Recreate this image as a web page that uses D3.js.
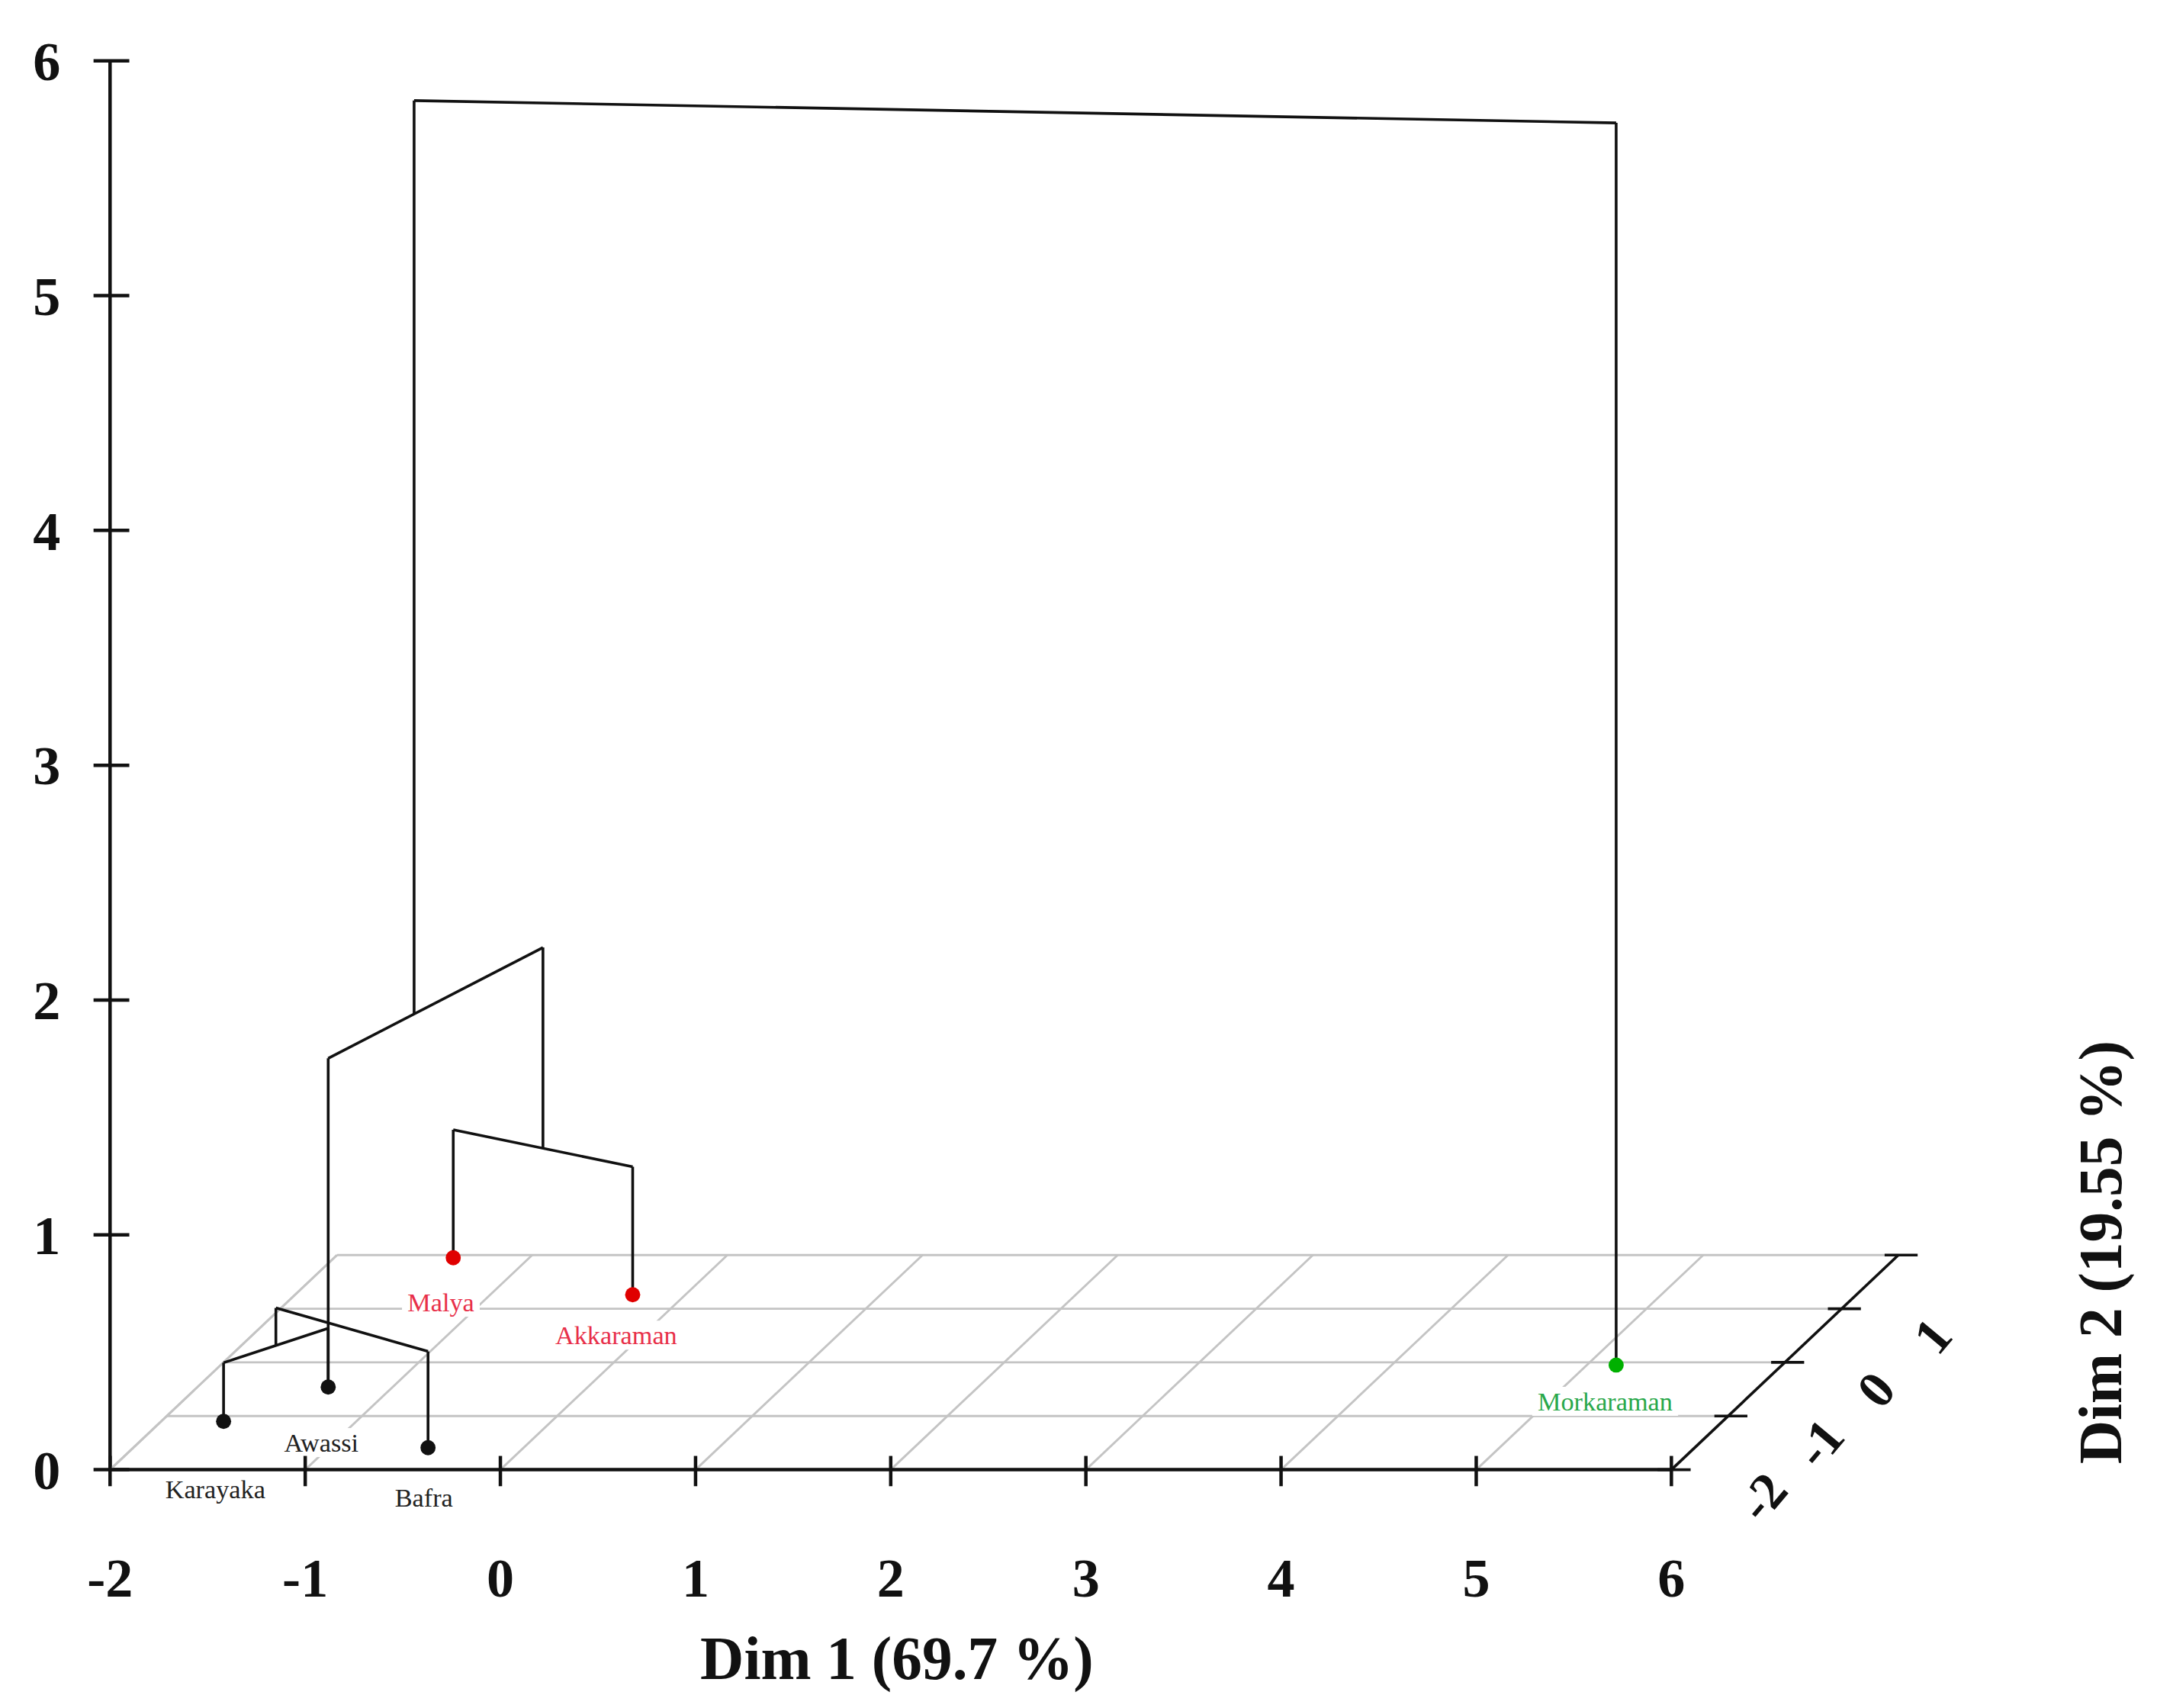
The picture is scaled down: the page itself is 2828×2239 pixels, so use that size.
<!DOCTYPE html>
<html>
<head>
<meta charset="utf-8">
<script src="https://cdn.jsdelivr.net/npm/d3@7"></script>
<style>
  body { margin: 0; background: #fff; }
  text { font-family: "Liberation Serif", "DejaVu Serif", serif; }
</style>
</head>
<body>
<svg id="chart" width="2828" height="2239" viewBox="0 0 1568 1241"></svg>
<script>
// leaves (breeds) on the Dim1 / Dim2 floor
const leafNames = ['Karayaka', 'Awassi', 'Bafra', 'Malya', 'Akkaraman', 'Morkaraman'];
const leafDim1 = [-1.68, -1.33, -0.49, -1.39, -0.27, 5.15];
const leafDim2 = [-1.1, -0.46, -1.59, 1.95, 1.26, -0.05];
const leafColor = ['#111', '#111', '#111', '#e00000', '#e00000', '#00b000'];

// merges of the dendrogram
const mergeNames = ['KA', 'KAB', 'MA', 'MAKAB', 'ROOT'];
const mergeLeft = ['Karayaka', 'KA', 'Malya', 'KAB', 'MAKAB'];
const mergeRight = ['Awassi', 'Bafra', 'Akkaraman', 'MA', 'Morkaraman'];
const mergeHeight = [0.25, 0.41, 0.545, 1.4, 5.29];
const mergeDim1 = [-1.505, -1.33, -0.83, -1.13, 2.0];
const mergeDim2 = [-0.78, -0.46, 1.605, 0.366, 0.2];
const mergeStemBase = [0.25, 0, 0.545, 1.4, 5.29];

const xTicks = [-2, -1, 0, 1, 2, 3, 4, 5, 6];
const yTicks = [0, 1, 2, 3, 4, 5, 6];
const dTicks = [-2, -1, 0, 1, 2];
const dLabels = ['-2', '-1', '0', '1'];

const svg = d3.select('#chart');

const x = d3.scaleLinear().domain([-2, 6]).range([80, 1215]);
const z = d3.scaleLinear().domain([0, 6]).range([1068, 44]);
const dx = d3.scaleLinear().domain([-2, 2]).range([0, 165]);
const dy = d3.scaleLinear().domain([-2, 2]).range([0, -156]);

function proj(a, d, h) {
  return [x(a) + dx(d), z(h) + dy(d)];
}

const pos = {};
leafNames.forEach((n, i) => { pos[n] = { a: leafDim1[i], d: leafDim2[i], h: 0, base: 0 }; });
mergeNames.forEach((n, i) => { pos[n] = { a: mergeDim1[i], d: mergeDim2[i], h: mergeHeight[i], base: mergeStemBase[i] }; });

const line = d3.line();

// floor grid
const grid = svg.append('g').attr('stroke', '#c4c4c4').attr('stroke-width', 1.6).attr('fill', 'none');
dTicks.slice(1).forEach(d => grid.append('path').attr('d', line([proj(-2, d, 0), proj(6, d, 0)])));
xTicks.slice(0, -1).forEach(a => grid.append('path').attr('d', line([proj(a, -2, 0), proj(a, 2, 0)])));

// labels with white halos (erase grid behind labels)
const labelOffset = {
  Karayaka: [-6, 56], Awassi: [-5, 47], Bafra: [-3, 43],
  Malya: [-9, 39], Akkaraman: [-12, 36], Morkaraman: [-8, 33]
};
const labels = svg.append('g');
leafNames.forEach((n, i) => {
  const p = proj(leafDim1[i], leafDim2[i], 0);
  const o = labelOffset[n];
  const t = labels.append('text')
    .attr('x', p[0] + o[0]).attr('y', p[1] + o[1])
    .attr('text-anchor', 'middle').attr('font-size', 19)
    .attr('fill', leafColor[i] === '#111' ? '#222' : (leafColor[i] === '#00b000' ? '#2aa84a' : '#e8304a'))
    .text(n);
  const b = t.node().getBBox();
  labels.insert('rect', 'text').attr('x', b.x - 4).attr('y', b.y).attr('width', b.width + 8)
    .attr('height', b.height).attr('fill', '#fff');
});

// axes
const ax = svg.append('g').attr('stroke', '#111').attr('stroke-width', 2.5).attr('fill', 'none');
ax.append('path').attr('d', line([[x(-2), z(0)], [x(-2), z(6)]]));
ax.append('path').attr('d', line([[x(-2), z(0)], [x(6), z(0)]]));
ax.append('path').attr('d', line([proj(6, -2, 0), proj(6, 2, 0)])).attr('stroke-width', 2);
ax.append('path').attr('d', line([proj(-2, -2, 0), proj(-2, 2, 0)])).attr('stroke', '#c4c4c4').attr('stroke-width', 1.6);
yTicks.forEach(v => ax.append('path').attr('d', line([[x(-2) - 12, z(v)], [x(-2) + 14, z(v)]])));
xTicks.forEach(v => ax.append('path').attr('d', line([[x(v), z(0) - 10], [x(v), z(0) + 12]])));
dTicks.forEach(d => { const p = proj(6, d, 0); ax.append('path').attr('stroke-width', 2).attr('d', line([[p[0] - 10, p[1]], [p[0] + 14, p[1]]])); });

const tl = svg.append('g').attr('font-weight', 'bold').attr('fill', '#111');
yTicks.forEach(v => tl.append('text').attr('x', 34).attr('y', z(v) + 14).attr('text-anchor', 'middle').attr('font-size', 40).text(v));
xTicks.forEach(v => tl.append('text').attr('x', x(v)).attr('y', z(0) + 92).attr('text-anchor', 'middle').attr('font-size', 40).text(v));
dLabels.forEach((s, i) => {
  const p = proj(6, +s, 0);
  tl.append('text').attr('transform', `translate(${p[0] + 76},${p[1] + 28}) rotate(-50)`)
    .attr('text-anchor', 'middle').attr('font-size', 38).text(s);
});
tl.append('text').attr('x', 652).attr('y', 1220).attr('text-anchor', 'middle').attr('font-size', 44).text('Dim 1 (69.7 %)');
tl.append('text').attr('transform', 'translate(1542,910) rotate(-90)').attr('text-anchor', 'middle').attr('font-size', 44).text('Dim 2 (19.55 %)');

// dendrogram
const dg = svg.append('g').attr('stroke', '#111').attr('stroke-width', 2).attr('fill', 'none');
mergeNames.forEach((n, i) => {
  const h = mergeHeight[i];
  [mergeLeft[i], mergeRight[i]].forEach(c => {
    const p = pos[c];
    dg.append('path').attr('d', line([proj(p.a, p.d, p.base), proj(p.a, p.d, h)]));
  });
  const l = pos[mergeLeft[i]], r = pos[mergeRight[i]];
  dg.append('path').attr('d', line([proj(l.a, l.d, h), proj(r.a, r.d, h)]));
});

// leaf points
leafNames.forEach((n, i) => {
  const p = proj(leafDim1[i], leafDim2[i], 0);
  svg.append('circle').attr('cx', p[0]).attr('cy', p[1]).attr('r', 5.5).attr('fill', leafColor[i]);
});
</script>
</body>
</html>
